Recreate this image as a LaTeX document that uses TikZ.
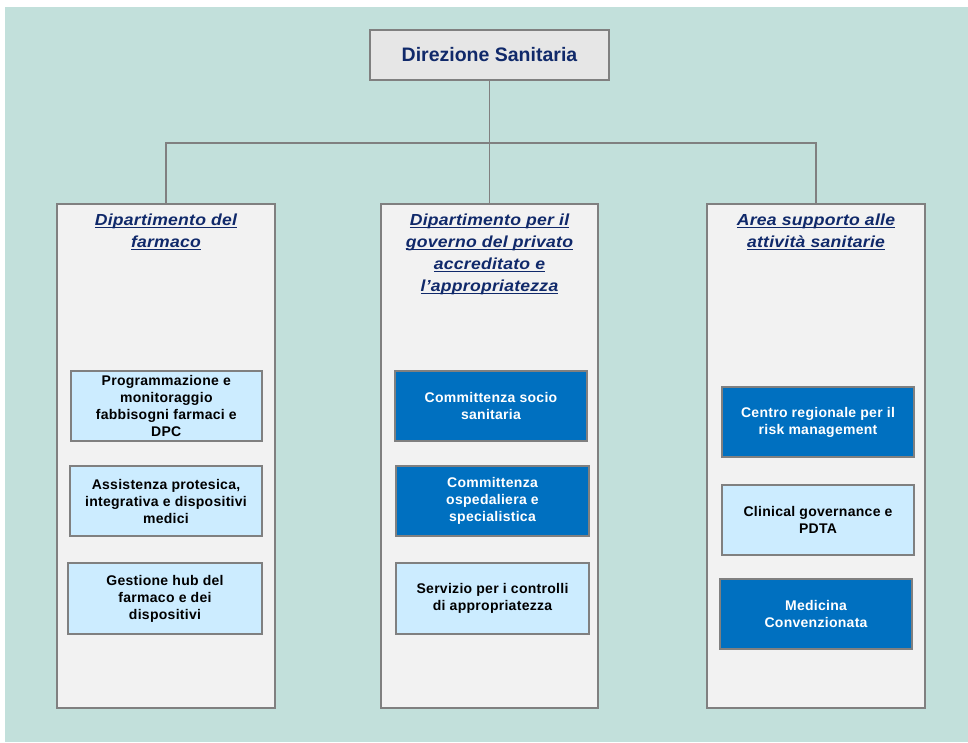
\documentclass[tikz,border=0pt]{standalone}
\usepackage{fontspec}
\setmainfont{Liberation Sans}
\newfontfamily\headfont[FakeStretch=1.1,LetterSpace=1.5]{Liberation Sans}
\newfontfamily\unitfont[LetterSpace=2]{Liberation Sans}
\usetikzlibrary{shadows}
\definecolor{bgteal}{HTML}{C2E0DB}
\definecolor{linegray}{HTML}{808080}
\definecolor{colgray}{HTML}{F2F2F2}
\definecolor{topgray}{HTML}{E6E6E6}
\definecolor{hdnavy}{HTML}{10296A}
\definecolor{lightblue}{HTML}{CCECFF}
\definecolor{darkblue}{HTML}{0070C0}
% underline sitting just below the baseline
\newcommand\hdline[1]{\setbox0\hbox{#1}\rlap{\color{hdnavy}\rule[-2.2pt]{\wd0}{0.9pt}}\box0}
\begin{document}
\begin{tikzpicture}[x=1pt,y=-1pt,
  frame/.style={draw=linegray, line width=1.4pt},
  wire/.style={draw=linegray, line width=1.4pt},
  shade/.style={drop shadow={shadow xshift=1pt, shadow yshift=-1.2pt, opacity=.35, fill=black}},
  topbox/.style={frame, fill=topgray, shade, text=hdnavy,
    font=\fontsize{19.5}{22}\selectfont\bfseries},
  colbox/.style={frame, fill=colgray, shade, minimum height=504pt},
  head/.style={font=\fontsize{16}{22}\headfont\bfseries\itshape, text=hdnavy,
    align=center, inner sep=0pt, anchor=north},
  unit/.style={frame, shade, font=\fontsize{14}{17}\unitfont\bfseries, align=center,
    inner sep=0pt, minimum height=70pt},
  lightunit/.style={unit, fill=lightblue, text=black},
  darkunit/.style={unit, fill=darkblue, text=white}]
\useasboundingbox (0,0) rectangle (968,742);
\fill[white] (0,0) rectangle (968,742);
\fill[bgteal] (5,7) rectangle (968,742);

% top of the hierarchy
\node[topbox, minimum width=239pt, minimum height=50pt] (dir) at (489.5,55) {Direzione Sanitaria};

% the three departments
\node[colbox, minimum width=218pt] (colA) at (166,456) {};
\node[colbox, minimum width=217pt] (colB) at (489.5,456) {};
\node[colbox, minimum width=218pt] (colC) at (816,456) {};

% connectors
\coordinate (bus) at (489.5,143);
\draw[wire] (dir.south) -- (bus);
\draw[wire] (colA.north) |- (bus) -| (colC.north);
\draw[wire] (bus) -- (colB.north);

% department titles
\node[head] (hA) at (166,214) {\hdline{Dipartimento del}\\\hdline{farmaco}};
\node[head] (hB) at (489.5,214) {\hdline{Dipartimento per il}\\\hdline{governo del privato}\\\hdline{accreditato e}\\\hdline{l’appropriatezza}};
\node[head] (hC) at (816,214) {\hdline{Area supporto alle}\\\hdline{attività sanitarie}};

% units, first department
\node[lightunit, minimum width=191pt] (a1) at (166.3,406) {Programmazione e\\monitoraggio\\fabbisogni farmaci e\\DPC};
\node[lightunit, minimum width=192pt] (a2) at (166,501) {Assistenza protesica,\\integrativa e dispositivi\\medici};
\node[lightunit, minimum width=194pt, minimum height=71pt] (a3) at (165,598.5) {Gestione hub del\\farmaco e dei\\dispositivi};

% units, second department
\node[darkunit, minimum width=192pt] (b1) at (491,406) {Committenza socio\\sanitaria};
\node[darkunit, minimum width=193pt] (b2) at (492.5,501) {Committenza\\ospedaliera e\\specialistica};
\node[lightunit, minimum width=193pt, minimum height=71pt] (b3) at (492.5,598.5) {Servizio per i controlli\\di appropriatezza};

% units, third area
\node[darkunit, minimum width=192pt] (c1) at (818,422) {Centro regionale per il\\risk management};
\node[lightunit, minimum width=192pt] (c2) at (818,520) {Clinical governance e\\PDTA};
\node[darkunit, minimum width=192pt] (c3) at (816,614) {Medicina\\Convenzionata};
\end{tikzpicture}
\end{document}
